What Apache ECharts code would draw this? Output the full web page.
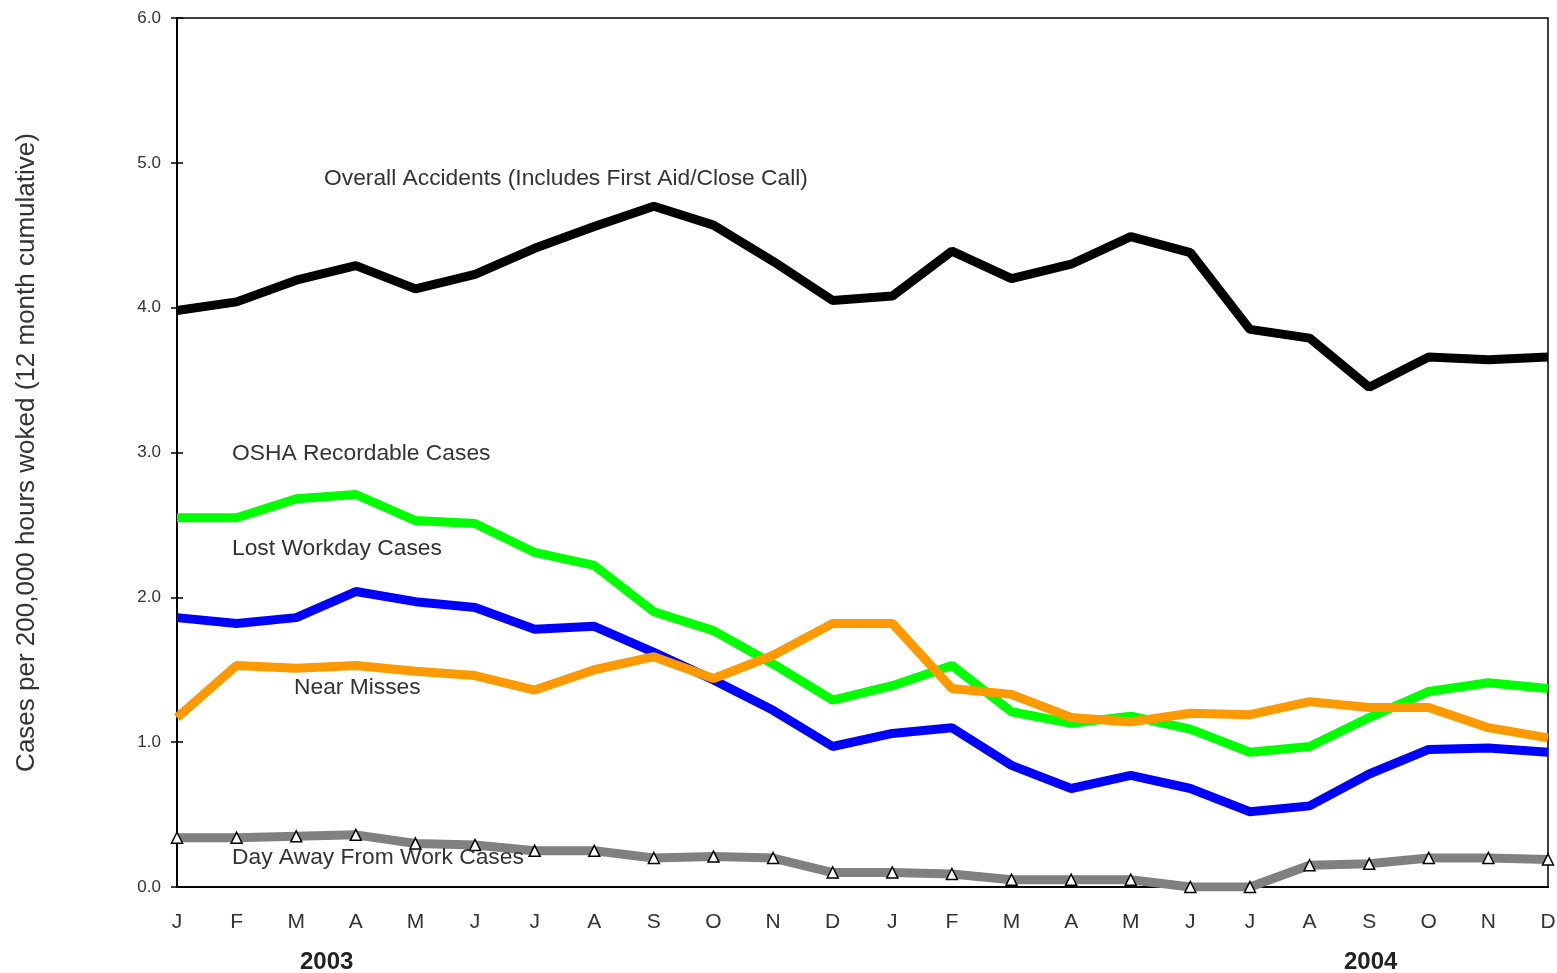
<!DOCTYPE html>
<html><head><meta charset="utf-8">
<script src="https://cdn.jsdelivr.net/npm/echarts@6/dist/echarts.min.js"></script>
<style>html,body{margin:0;padding:0;background:#fff}#c{width:1557px;height:973px}</style>
</head><body><div id="c"></div>
<script>
const months = ["J","F","M","A","M","J","J","A","S","O","N","D","J","F","M","A","M","J","J","A","S","O","N","D"];
const overall = [3.98,4.04,4.19,4.29,4.13,4.23,4.41,4.56,4.70,4.57,4.32,4.05,4.08,4.39,4.20,4.30,4.49,4.38,3.85,3.79,3.45,3.66,3.64,3.66];
const osha = [2.55,2.55,2.68,2.71,2.53,2.51,2.31,2.22,1.90,1.77,1.54,1.29,1.39,1.53,1.21,1.13,1.18,1.09,0.93,0.97,1.17,1.35,1.41,1.37];
const lostWorkday = [1.86,1.82,1.86,2.04,1.97,1.93,1.78,1.80,1.62,1.43,1.22,0.97,1.06,1.10,0.84,0.68,0.77,0.68,0.52,0.56,0.78,0.95,0.96,0.93];
const nearMisses = [1.17,1.53,1.51,1.53,1.49,1.46,1.36,1.50,1.59,1.44,1.60,1.82,1.82,1.37,1.33,1.17,1.14,1.20,1.19,1.28,1.24,1.24,1.10,1.03];
const dayAway = [0.34,0.34,0.35,0.36,0.30,0.29,0.25,0.25,0.20,0.21,0.20,0.10,0.10,0.09,0.05,0.05,0.05,0.0,0.0,0.15,0.16,0.20,0.20,0.19];
const yTicks = ["0.0","1.0","2.0","3.0","4.0","5.0","6.0"];

const chart = echarts.init(document.getElementById('c'));
const font = "Liberation Sans, Arial, sans-serif";
const txt = (t, x, y, extra) => Object.assign({type:'text', left:x, top:y, style:{text:t, font:'22.8px ' + font, fill:'#333'}}, extra||{});
const line = (name, data, color, extra) => Object.assign({
  name, type:'line', data, showSymbol:false, symbol:'none', lineStyle:{color, width:9}, itemStyle:{color}, z:3, animation:false
}, extra||{});

chart.setOption({
  animation:false,
  grid:{left:177, right:9, top:18, bottom:86, show:true, borderColor:'#000', borderWidth:1.5, backgroundColor:'#fff',
        containLabel:false, outerBoundsMode:'none'},
  xAxis:{type:'category', data:months, boundaryGap:false,
    axisLine:{lineStyle:{color:'#000', width:2}}, axisTick:{show:false},
    axisLabel:{color:'#333', fontSize:21, fontFamily:font, margin:25, interval:0}},
  yAxis:[{type:'value', min:0, max:6, interval:1,
    axisLine:{show:true, lineStyle:{color:'#000', width:2}},
    axisTick:{show:true, length:6, lineStyle:{color:'#000', width:1.5}},
    splitLine:{show:false},
    axisLabel:{color:'#333', fontSize:17, fontFamily:font, margin:16, formatter:(v)=>yTicks[Math.round(v)]},
    name:'Cases per 200,000 hours woked (12 month cumulative)', nameLocation:'middle', nameGap:137,
    nameTextStyle:{color:'#333', fontSize:26, fontFamily:font}},
   {type:'value', min:0, max:6, interval:1, position:'left',
    axisLine:{show:false}, axisTick:{show:true, inside:true, length:6, lineStyle:{color:'#000', width:1.5}},
    axisLabel:{show:false}, splitLine:{show:false}}],
  series:[
    line('Overall Accidents', overall, '#000000'),
    line('OSHA Recordable Cases', osha, '#00ff00'),
    line('Lost Workday Cases', lostWorkday, '#0000ff'),
    line('Near Misses', nearMisses, '#ff9900'),
    line('Day Away From Work Cases', dayAway, '#808080', {
      showSymbol:true, symbol:'triangle', symbolSize:11,
      itemStyle:{color:'#fff', borderColor:'#000', borderWidth:1.5}, z:4})
  ],
  graphic:[
    txt('Overall Accidents (Includes First Aid/Close Call)', 324, 167),
    txt('OSHA Recordable Cases', 232, 442),
    txt('Lost Workday Cases', 232, 537),
    txt('Near Misses', 294, 676),
    txt('Day Away From Work Cases', 232, 846, {z:10}),
    txt('2003', 300, 950, {style:{text:'2003', font:'bold 24px ' + font, fill:'#222'}}),
    txt('2004', 1344, 950, {style:{text:'2004', font:'bold 24px ' + font, fill:'#222'}})
  ]
});
</script></body></html>
